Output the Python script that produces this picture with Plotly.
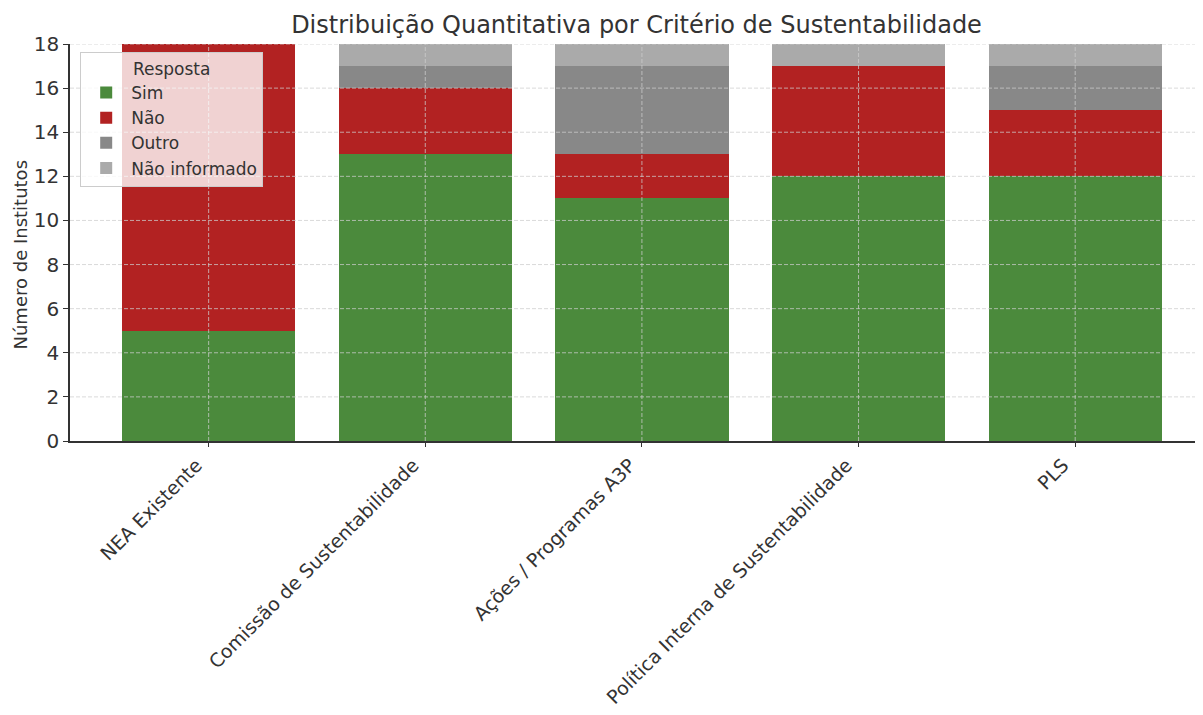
# -*- coding: utf-8 -*-
"""Stacked bar chart: answers per sustainability criterion."""

import plotly.graph_objects as go

criterios = [
    "NEA Existente",
    "Comissão de Sustentabilidade",
    "Ações / Programas A3P",
    "Política Interna de Sustentabilidade",
    "PLS",
]

sim = [5, 13, 11, 12, 12]
nao = [13, 3, 2, 5, 3]
outro = [0, 1, 4, 0, 2]
nao_informado = [0, 1, 1, 1, 1]

y_ticks = [0, 2, 4, 6, 8, 10, 12, 14, 16, 18]

FONT = "DejaVu Sans"
TEXT = "#333333"
GRID = "rgba(205,205,205,0.75)"

series = [
    ("Sim", sim, "#4b8a3c"),
    ("Não", nao, "#b22222"),
    ("Outro", outro, "#888888"),
    ("Não informado", nao_informado, "#aaaaaa"),
]

fig = go.Figure()
for name, values, color in series:
    fig.add_trace(go.Bar(
        x=criterios, y=values, name=name, marker_color=color,
        marker_line_width=0, width=0.8,
    ))

# grid is drawn over the bars (as in the reference), so use shapes above traces
grid_line = dict(color=GRID, width=1, dash="4px,2px")
for v in y_ticks[1:]:
    fig.add_shape(type="line", xref="paper", x0=0, x1=1, yref="y", y0=v, y1=v,
                  line=grid_line, layer="above")
for c in criterios:
    fig.add_shape(type="line", xref="x", x0=c, x1=c, yref="paper", y0=0, y1=1,
                  line=grid_line, layer="above")

# y axis title as an annotation so it can sit slightly below the axis centre
fig.add_annotation(
    text="Número de Institutos", textangle=-90, showarrow=False,
    xref="paper", x=0, xanchor="center", xshift=-50,
    yref="paper", y=0.5, yanchor="middle", yshift=-12,
    font=dict(size=18, color=TEXT),
)

# the page body has an 8px margin, so the figure is sized to fit the window
fig.update_layout(
    barmode="stack",
    width=1195, height=707,
    margin=dict(l=62, r=0, t=36, b=274),
    plot_bgcolor="white", paper_bgcolor="white",
    font=dict(family=FONT, color=TEXT, size=17),
    title=dict(
        text="Distribuição Quantitativa por Critério de Sustentabilidade",
        x=0.5, xref="paper", xanchor="center", y=0.976, yanchor="middle",
        font=dict(size=24, color=TEXT),
    ),
    legend=dict(
        title=dict(text="Resposta", side="top center", font=dict(size=17)),
        x=0.009, y=0.98, xanchor="left", yanchor="top",
        bgcolor="rgba(255,255,255,0.8)", bordercolor="#cccccc", borderwidth=1,
        font=dict(size=17), traceorder="normal", itemwidth=40,
    ),
    bargap=0.2,
)

fig.update_xaxes(
    range=[-0.64, 4.59], tickangle=-45, tickfont=dict(size=19),
    showline=True, linecolor="#333333", linewidth=1.5,
    ticks="outside", ticklen=4, tickcolor="#333333",
    ticklabelshift=-12, ticklabelstandoff=0,
    showgrid=False, automargin=False,
)
fig.update_yaxes(
    range=[0, 18], tickvals=y_ticks, tickfont=dict(size=20),
    showline=True, linecolor="#333333", linewidth=1.5,
    ticks="outside", ticklen=5, tickcolor="#333333",
    showgrid=False, zeroline=False, automargin=False,
)

fig.write_html("out.html")
